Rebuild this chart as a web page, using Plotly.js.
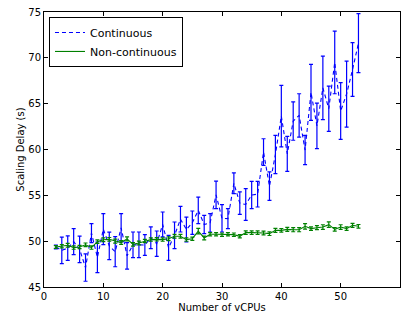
<!DOCTYPE html>
<html>
<head>
<meta charset="utf-8">
<script src="https://cdn.plot.ly/plotly-3.0.1.min.js"></script>
<style>html,body{margin:0;padding:0;background:#fff;}#chart{width:404px;height:316px;}</style>
</head>
<body>
<div id="chart"></div>
<script>
const vcpus = [2,3,4,5,6,7,8,9,10,11,12,13,14,15,16,17,18,19,20,21,22,23,24,25,26,27,28,29,30,31,32,33,34,35,36,37,38,39,40,41,42,43,44,45,46,47,48,49,50,51,52,53];
const contMean = [49.36,49.0,49.24,49.95,49.11,47.12,50.88,48.24,51.31,49.49,48.85,51.46,48.4,49.6,49.6,49.58,50.37,49.73,51.82,49.27,50.64,52.4,51.27,52.02,53.36,51.82,52.0,55.05,52.49,52.46,56.31,54.15,54.0,55.03,55.13,59.72,56.0,59.45,63.64,59.52,63.1,63.72,59.94,66.23,62.58,66.72,64.45,69.5,64.2,66.05,68.72,71.6];
const contErr = [0.2,1.45,1.33,1.42,1.45,1.49,1.04,1.67,1.69,1.5,1.64,1.55,1.45,1.4,1.4,1.13,1.18,1.38,1.36,1.36,1.45,1.4,1.36,1.27,1.45,1.0,1.0,1.5,1.49,1.09,1.13,1.22,1.73,1.49,1.4,1.45,1.55,2.09,3.36,1.91,2.09,2.36,1.6,3.05,2.49,3.47,2.47,3.42,3.09,3.6,2.93,3.22];
const nonMean = [49.36,49.45,49.55,49.3,49.36,49.6,49.3,49.95,50.15,50.2,50.0,49.85,50.25,49.65,49.8,50.02,50.17,50.2,50.17,50.27,50.53,50.53,50.17,50.27,51.1,50.35,50.75,50.75,50.71,50.75,50.71,50.53,50.93,50.93,50.93,50.89,50.82,51.18,51.18,51.29,51.25,51.25,51.62,51.37,51.47,51.54,51.8,51.29,51.54,51.37,51.73,51.62];
const nonErr = [0.15,0.18,0.2,0.18,0.18,0.2,0.18,0.2,0.2,0.2,0.22,0.2,0.22,0.2,0.2,0.18,0.18,0.18,0.18,0.2,0.2,0.2,0.18,0.18,0.3,0.2,0.18,0.18,0.18,0.18,0.18,0.18,0.2,0.2,0.2,0.2,0.2,0.22,0.2,0.22,0.22,0.22,0.3,0.2,0.22,0.25,0.3,0.2,0.25,0.2,0.22,0.2];
const seriesNames = ['Continuous','Non-continuous'];
const xTicks = [0,10,20,30,40,50,60];
const yTicks = [45,50,55,60,65,70,75];

const font = {family:'DejaVu Sans, sans-serif', size:10, color:'#000'};
const traces = [
  {x:vcpus, y:contMean, name:seriesNames[0], type:'scatter', mode:'lines',
   line:{color:'#0000ff', width:1.1, dash:'4px,3px'},
   error_y:{type:'data', array:contErr, visible:true, color:'#0000ff', thickness:1.2, width:2}},
  {x:vcpus, y:nonMean, name:seriesNames[1], type:'scatter', mode:'lines',
   line:{color:'#008000', width:1.1},
   error_y:{type:'data', array:nonErr, visible:true, color:'#008000', thickness:1.2, width:2}}
];
const axisCommon = {showline:true, linecolor:'#000', linewidth:1, mirror:'ticks', ticks:'inside', ticklen:4, tickcolor:'#000', showgrid:false, zeroline:false, tickfont:font};
const layout = {
  width:404, height:316, margin:{l:44, r:4, t:12, b:29},
  paper_bgcolor:'#fff', plot_bgcolor:'#fff', font:font,
  xaxis:Object.assign({}, axisCommon, {range:[0,60], tickvals:xTicks, ticktext:xTicks.map(String), title:{text:'Number of vCPUs', font:font, standoff:2}}),
  yaxis:Object.assign({}, axisCommon, {range:[45,75], tickvals:yTicks, ticktext:yTicks.map(String), title:{text:'Scaling Delay (s)', font:font, standoff:1}}),
  showlegend:true,
  legend:{x:0.014, y:0.982, xanchor:'left', yanchor:'top', bgcolor:'#fff', bordercolor:'#000', borderwidth:1, font:{family:'DejaVu Sans, sans-serif', size:11, color:'#000'}, tracegroupgap:0, itemwidth:30},
};
Plotly.newPlot('chart', traces, layout, {staticPlot:true, displayModeBar:false});
</script>
</body>
</html>
